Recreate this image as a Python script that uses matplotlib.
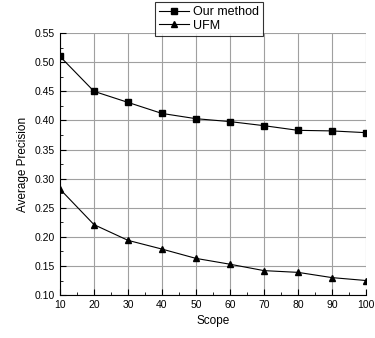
import numpy as np
import matplotlib.pyplot as plt
from matplotlib.ticker import MultipleLocator

# data
scope = [10, 20, 30, 40, 50, 60, 70, 80, 90, 100]
our_method = [0.510, 0.450, 0.431, 0.412, 0.403, 0.398, 0.391, 0.383, 0.382, 0.379]
ufm = [0.282, 0.221, 0.194, 0.179, 0.163, 0.153, 0.142, 0.139, 0.130, 0.125]

plt.rcParams['font.family'] = ['Liberation Sans', 'DejaVu Sans']
plt.rcParams['font.size'] = 7.5

fig = plt.figure(figsize=(3.75, 3.38), dpi=100)
ax = fig.add_axes([0.16, 0.127, 0.816, 0.775])

ax.plot(scope, our_method, 'k-s', lw=0.8, ms=4.5, label='Our method')
ax.plot(scope, ufm, 'k-^', lw=0.8, ms=5, label='UFM')

ax.set_xlim(10, 100)
ax.set_ylim(0.10, 0.55)
ax.xaxis.set_major_locator(MultipleLocator(10))
ax.xaxis.set_minor_locator(MultipleLocator(5))
ax.yaxis.set_major_locator(MultipleLocator(0.05))
ax.yaxis.set_minor_locator(MultipleLocator(0.025))
ax.yaxis.set_major_formatter(plt.FormatStrFormatter('%.2f'))
ax.tick_params(direction='in', which='both', colors='black', labelsize=7.5)
ax.tick_params(which='major', length=4)
ax.tick_params(which='minor', length=2)
ax.grid(True, which='major', color='#a0a0a0', lw=0.8)
ax.set_axisbelow(True)
for s in ['top', 'right']:
    ax.spines[s].set_visible(False)

ax.set_xlabel('Scope', fontsize=8.5, labelpad=4)
ax.set_ylabel('Average Precision', fontsize=8.5, labelpad=4)

leg = fig.legend(loc='upper center', bbox_to_anchor=(0.557, 1.012), frameon=True,
                 fancybox=False, edgecolor='black', fontsize=9,
                 handlelength=2.4, borderpad=0.3, labelspacing=0.15, handletextpad=0.3)
leg.get_frame().set_linewidth(0.8)

fig.savefig('out.png', dpi=100)
